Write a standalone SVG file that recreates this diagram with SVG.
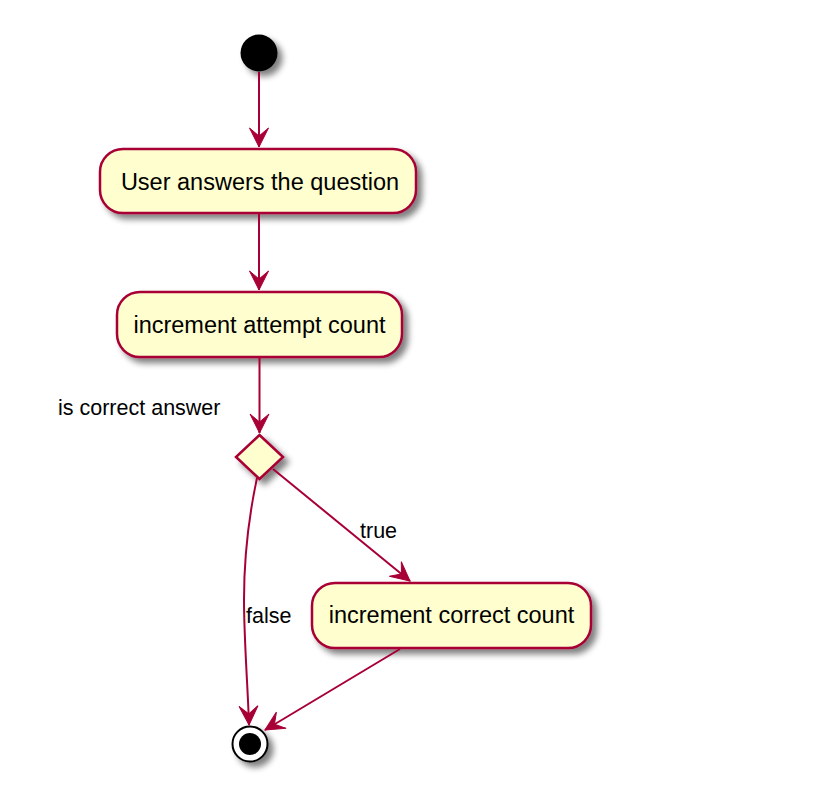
<svg xmlns="http://www.w3.org/2000/svg" width="815" height="809" viewBox="0 0 815 809">
<style>
.box{fill:#FEFECE;stroke:#A80036;stroke-width:2.5}
.edge{fill:none;stroke:#A80036;stroke-width:2}
.lbl{font-family:"Liberation Sans",Arial,sans-serif;font-size:23.5px;fill:#000}
.elbl{font-family:"Liberation Sans",Arial,sans-serif;font-size:21.5px;fill:#000}
</style>
<defs>
<filter id="sh" x="-30%" y="-30%" width="170%" height="170%">
<feGaussianBlur in="SourceAlpha" stdDeviation="3"/>
<feOffset dx="5" dy="5" result="b"/>
<feComponentTransfer><feFuncA type="linear" slope="0.5"/></feComponentTransfer>
<feMerge><feMergeNode/><feMergeNode in="SourceGraphic"/></feMerge>
</filter>
<marker id="arr" markerUnits="userSpaceOnUse" markerWidth="24" markerHeight="24" viewBox="-20 -12 24 24" refX="0" refY="0" orient="auto">
<path d="M0,0 L-19,-9.5 L-11,0 L-19,9.5 Z" fill="#A80036" stroke="#A80036" stroke-width="1"/>
</marker>
</defs>
<rect width="815" height="809" fill="#fff"/>
<g id="start"><circle cx="259" cy="53" r="18.5" fill="#000" filter="url(#sh)"/></g>
<g id="n1"><rect class="box" x="100" y="149" width="316" height="64" rx="23" filter="url(#sh)"/><text class="lbl" x="260" y="190" text-anchor="middle">User answers the question</text></g>
<g id="n2"><rect class="box" x="117" y="292" width="285" height="65" rx="23" filter="url(#sh)"/><text class="lbl" x="259.5" y="333" text-anchor="middle">increment attempt count</text></g>
<g id="d1"><polygon class="box" points="259.5,435 283,457 259.5,479 236,457" filter="url(#sh)"/><text class="elbl" x="58" y="415">is correct answer</text></g>
<g id="n3"><rect class="box" x="312" y="583" width="279" height="65" rx="23" filter="url(#sh)"/><text class="lbl" x="451.5" y="623" text-anchor="middle">increment correct count</text></g>
<g id="end"><circle cx="250" cy="744" r="17.5" fill="#fff" stroke="#000" stroke-width="2" filter="url(#sh)"/><circle cx="250" cy="744" r="11" fill="#000"/></g>
<g id="edges">
<path class="edge" d="M259,72 L259,147" marker-end="url(#arr)"/>
<path class="edge" d="M259,214 L259,290" marker-end="url(#arr)"/>
<path class="edge" d="M259.5,358 L259.5,433" marker-end="url(#arr)"/>
<path class="edge" d="M273,469 L410,581" marker-end="url(#arr)"/>
<path class="edge" d="M257,478 C248,520 244,560 244,600 C244,640 248,690 249,725" marker-end="url(#arr)"/>
<path class="edge" d="M400,649 L265,730" marker-end="url(#arr)"/>
<text class="elbl" x="360" y="538">true</text>
<text class="elbl" x="246" y="623">false</text>
</g>
</svg>
